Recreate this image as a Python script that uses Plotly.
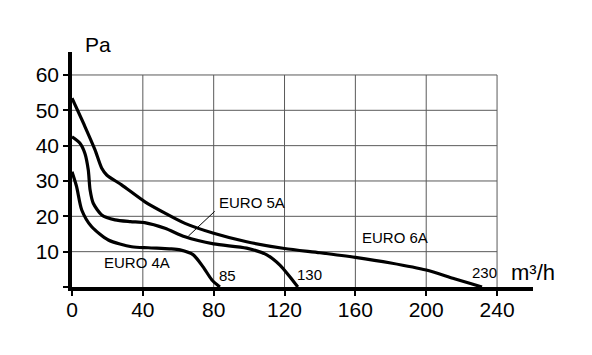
import plotly.graph_objects as go

# ---- data ----
euro4_q = [0, 2.6, 5.5, 11, 20.5, 33.7, 43, 55, 61, 68.5, 74, 79, 83.5]
euro4_p = [32.6, 28.4, 21.8, 17.1, 13.3, 11.4, 11.1, 10.8, 10.5, 9.1, 5.7, 2.0, 0]

euro5_q = [0, 4.5, 7.3, 9.2, 10.2, 12, 16.8, 24.3, 33, 41, 52.5, 63.8, 80, 98.6, 110, 117.4, 123, 127.5]
euro5_p = [42.5, 40.7, 37.8, 33.1, 27.5, 23.7, 20.4, 19.0, 18.5, 18.2, 16.6, 14.2, 12.2, 11.0, 9.1, 6.2, 2.9, 0]

euro6_q = [0, 7.3, 13, 16.8, 19.6, 28, 41.2, 52.5, 63.8, 80, 98.6, 120, 140, 160, 180, 200, 215, 225, 231.5]
euro6_p = [53.4, 45.4, 38.8, 33.6, 31.7, 28.9, 24.1, 20.9, 18.0, 15.2, 12.8, 10.9, 9.7, 8.4, 6.8, 4.8, 2.5, 1.0, 0]

x_ticks = [0, 40, 80, 120, 160, 200, 240]
y_ticks = [0, 10, 20, 30, 40, 50, 60]
y_ticktext = ["", "10", "20", "30", "40", "50", "60"]

series_names = ["EURO 4A", "EURO 5A", "EURO 6A"]
name_x = [16.8, 81.7, 162.6]
name_y = [6.9, 23.8, 14.0]
leader_5a_tail = (65.7, 14.4)

end_labels = ["85", "130", "230"]
end_x = [81.7, 125.9, 224.7]
end_y = [3.3, 3.4, 4.1]

FONT = "Liberation Sans, Arial, sans-serif"
X_MAX = 260.3
Y_MAX = 66.5

fig = go.Figure()
for q, p in [(euro4_q, euro4_p), (euro5_q, euro5_p), (euro6_q, euro6_p)]:
    fig.add_trace(go.Scatter(x=q, y=p, mode="lines",
                             line=dict(color="black", width=3.2, shape="spline", smoothing=0.7),
                             hoverinfo="skip", showlegend=False, cliponaxis=False))

shapes = []
grid_color = "#5a5a5a"
for xv in x_ticks[1:]:
    shapes.append(dict(type="line", xref="x", yref="y", x0=xv, x1=xv, y0=0, y1=y_ticks[-1],
                       line=dict(color=grid_color, width=1), layer="below"))
for yv in y_ticks[1:]:
    shapes.append(dict(type="line", xref="x", yref="y", x0=0, x1=x_ticks[-1], y0=yv, y1=yv,
                       line=dict(color=grid_color, width=1), layer="below"))

annotations = []
for i, (t, xv, yv) in enumerate(zip(series_names, name_x, name_y)):
    annotations.append(dict(x=xv, y=yv, xref="x", yref="y", text=t, showarrow=False,
                            xanchor="left", yanchor="middle",
                            font=dict(family=FONT, size=15, color="black")))
# leader line for EURO 5A
annotations.append(dict(x=leader_5a_tail[0], y=leader_5a_tail[1], xref="x", yref="y",
                        ax=name_x[1] - 0.3, ay=name_y[1] - 2.0, axref="x", ayref="y",
                        text="", showarrow=True, arrowhead=0, arrowwidth=1, arrowcolor="black",
                        standoff=0, startstandoff=0))
for t, xv, yv in zip(end_labels, end_x, end_y):
    annotations.append(dict(x=xv, y=yv, xref="x", yref="y", text=t, showarrow=False,
                            xanchor="left", yanchor="middle",
                            font=dict(family=FONT, size=15, color="black")))
annotations.append(dict(x=0.024, y=1.034, xref="paper", yref="paper", text="Pa", showarrow=False,
                        xanchor="left", yanchor="middle", font=dict(family=FONT, size=21, color="black")))
annotations.append(dict(x=0.948, y=0.062, xref="paper", yref="paper", text="m³/h", showarrow=False,
                        xanchor="left", yanchor="middle", font=dict(family=FONT, size=22, color="black")))

fig.update_layout(
    width=592, height=355,
    margin=dict(l=72, r=59, t=52, b=68),
    paper_bgcolor="white", plot_bgcolor="white",
    shapes=shapes, annotations=annotations,
    xaxis=dict(range=[0, X_MAX], tickvals=x_ticks, showgrid=False, zeroline=False,
               showline=True, linecolor="black", linewidth=3.5,
               ticks="outside", ticklen=5, tickwidth=2, tickcolor="black",
               ticklabelstandoff=-4,
               tickfont=dict(family=FONT, size=21, color="black")),
    yaxis=dict(range=[0, Y_MAX], tickvals=y_ticks, ticktext=y_ticktext, showgrid=False, zeroline=False,
               showline=True, linecolor="black", linewidth=3.5,
               ticks="outside", ticklen=5, tickwidth=2, tickcolor="black",
               tickfont=dict(family=FONT, size=21, color="black")),
)

fig.write_html("out.html")
